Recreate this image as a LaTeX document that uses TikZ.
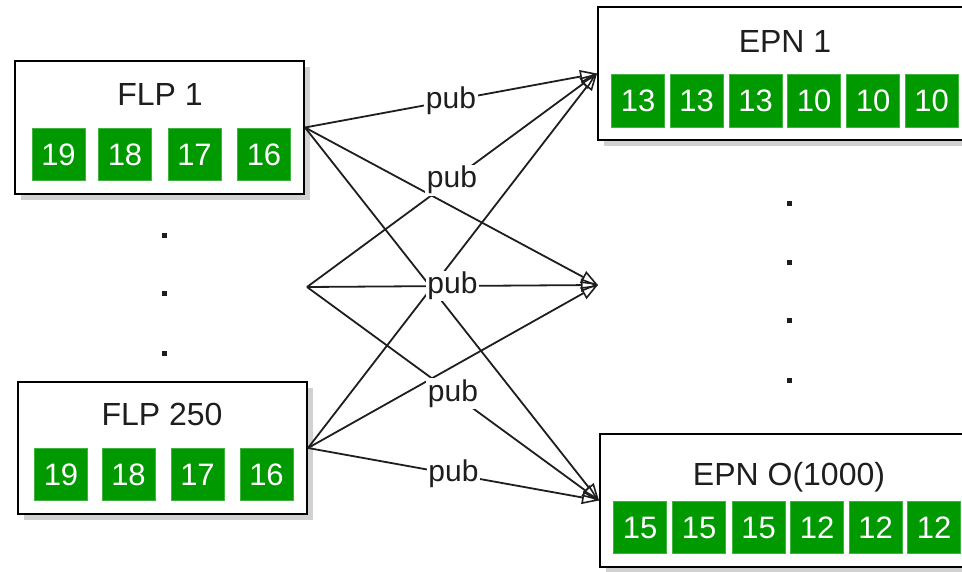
\documentclass[tikz,border=0pt]{standalone}
\usepackage{fontspec}
\setmainfont{Liberation Sans}
\usetikzlibrary{arrows.meta,shadows}
\definecolor{cellgreen}{RGB}{0,153,0}
\definecolor{inkgray}{RGB}{30,30,30}

\begin{document}
\begin{tikzpicture}[x=1pt,y=-1pt,
  box/.style={draw=black, line width=2pt, fill=white, inner sep=0pt,
    drop shadow={shadow xshift=6pt, shadow yshift=-6pt, fill=black!40, opacity=0.45}},
  title/.style={font=\fontsize{32}{38}\selectfont, text=inkgray, inner sep=0pt,
    text height=23pt, text depth=0pt},
  cell/.style={font=\fontsize{31}{37}\selectfont, fill=cellgreen, draw=cellgreen!75!white,
    line width=0.6pt, minimum width=53pt, minimum height=52pt, inner sep=0pt, text=white,
    text height=22.3pt, text depth=0pt},
  link/.style={line width=1.8pt, draw=inkgray,
    -{Triangle[open, length=17pt, width=13pt, line width=1.6pt]}},
  lbl/.style={font=\fontsize{30}{36}\selectfont, fill=white, text=inkgray, inner sep=1.5pt,
    text height=21.6pt, text depth=6.3pt},
  dotmark/.style={fill=inkgray, minimum size=5pt, inner sep=0pt}
]
\useasboundingbox (0,0) rectangle (962,572);
\clip (0,0) rectangle (962,572);

% ---- producer boxes
\node[box, minimum width=289pt, minimum height=133pt] (flp1) at (159.5,127.5) {};
\node[title] (flp1t) at (160,94) {FLP 1};
\node[cell] (f1a) at (58.5,154) {19};
\node[cell] (f1b) at (125,154) {18};
\node[cell] (f1c) at (194.5,154) {17};
\node[cell] (f1d) at (264,154) {16};

\node[box, minimum width=289pt, minimum height=132pt] (flp250) at (162.5,448) {};
\node[title] (flp250t) at (162,414) {FLP 250};
\node[cell] (f2a) at (61,474) {19};
\node[cell] (f2b) at (128.5,474) {18};
\node[cell] (f2c) at (197.5,474) {17};
\node[cell] (f2d) at (266.5,474) {16};

% ---- consumer boxes (running off the right edge)
\node[box, minimum width=377pt, minimum height=133pt] (epn1) at (786.5,73.5) {};
\node[title] (epn1t) at (785,41) {EPN 1};
\node[cell, minimum height=53pt] (e1a) at (638,100.5) {13};
\node[cell, minimum height=53pt] (e1b) at (696.5,100.5) {13};
\node[cell, minimum height=53pt] (e1c) at (755.5,100.5) {13};
\node[cell, minimum height=53pt] (e1d) at (814,100.5) {10};
\node[cell, minimum height=53pt] (e1e) at (873,100.5) {10};
\node[cell, minimum height=53pt] (e1f) at (931.5,100.5) {10};

\node[box, minimum width=377pt, minimum height=133pt] (epnO) at (788.5,500.5) {};
\node[title] (epnOt) at (789,474) {EPN O(1000)};
\node[cell] (e2a) at (640,527) {15};
\node[cell] (e2b) at (699,527) {15};
\node[cell] (e2c) at (758.5,527) {15};
\node[cell] (e2d) at (817,527) {12};
\node[cell] (e2e) at (875.5,527) {12};
\node[cell] (e2f) at (934,527) {12};

% ---- elided producers / consumers
\node[dotmark] (ld1) at (164,236) {};
\node[dotmark] (ld2) at (164,294) {};
\node[dotmark] (ld3) at (164,353) {};
\node[dotmark] (rd1) at (789,204) {};
\node[dotmark] (rd2) at (789,263) {};
\node[dotmark] (rd3) at (789,321) {};
\node[dotmark] (rd4) at (789,380) {};

% ---- fan-out points of the elided rows
\coordinate (mid) at (307,287);
\coordinate (hub) at (598,285);

% ---- connections without label
\draw[link] (flp1.east) -- (hub);
\draw[link] (flp1.east) -- (epnO.west);
\draw[link] (flp250.east) -- (epn1.west);
\draw[link] (flp250.east) -- (hub);

% ---- labelled connections
\draw[link] (flp1.east) -- node[lbl, midway] (p1) {pub} (epn1.west);
\draw[link] (mid) -- node[lbl, midway] (p2) {pub} (epn1.west);
\draw[link] (mid) -- node[lbl, midway] (p3) {pub} (hub);
\draw[link] (mid) -- node[lbl, midway] (p4) {pub} (epnO.west);
\draw[link] (flp250.east) -- node[lbl, midway] (p5) {pub} (epnO.west);
\end{tikzpicture}
\end{document}
